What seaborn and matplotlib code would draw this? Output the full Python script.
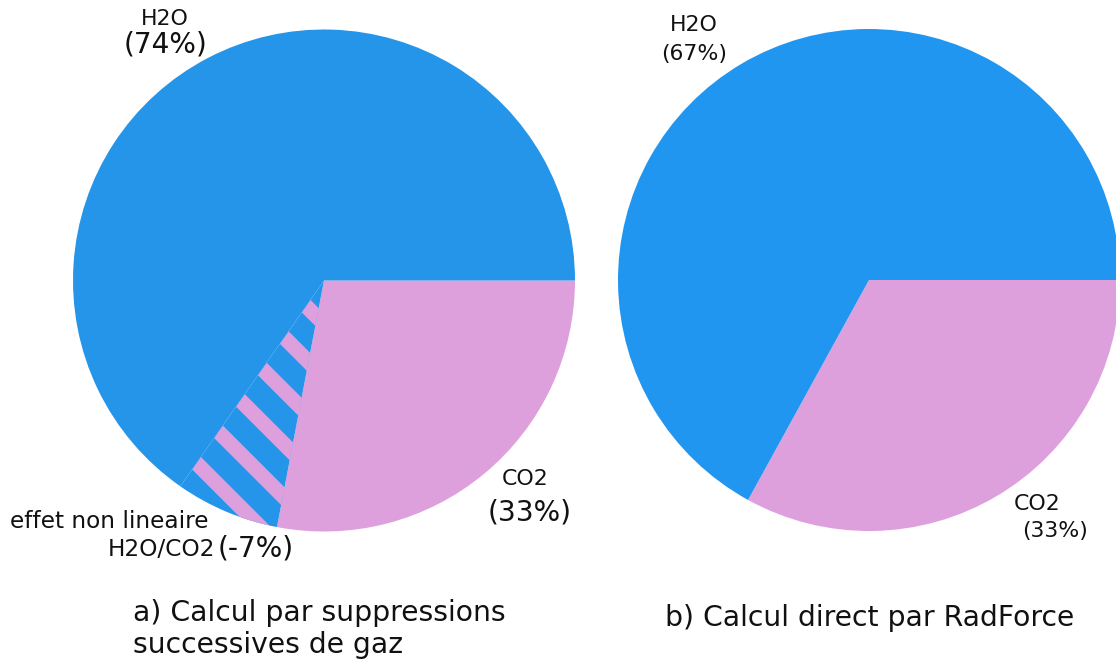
import matplotlib
matplotlib.use("Agg")
import matplotlib.pyplot as plt
import seaborn as sns

sns.set_style("white")
plt.rcParams['font.family'] = ['DejaVu Sans']

# ---------------- data ----------------
left_names = ["CO2", "effet non lineaire\nH2O/CO2", "H2O"]
left_shares = [28.0, 6.7, 65.3]          # wedge sizes as drawn
left_pct = [33, -7, 74]                  # percentages as labelled
right_names = ["CO2", "H2O"]
right_shares = [33, 67]
right_pct = [33, 67]
title_a = "a) Calcul par suppressions\nsuccessives de gaz"
title_b = "b) Calcul direct par RadForce"

# ---------------- style ----------------
DPI = 160
W, H = 1116, 661
PINK = "#DDA0DD"
BLUE_L = "#2595E9"
BLUE_R = "#2196F0"


def pt(px):
    return px * 72.0 / DPI


plt.rcParams['hatch.linewidth'] = pt(15)

fig = plt.figure(figsize=(W / DPI, H / DPI), dpi=DPI)


def pie_axes(cx, cy, r):
    return fig.add_axes([(cx - r) / W, (H - cy - r) / H, 2 * r / W, 2 * r / H])


def ftext(x, y, s, size, **kw):
    fig.text(x / W, 1 - y / H, s, fontsize=pt(size), color="#111111", **kw)


# left pie
axl = pie_axes(324, 280.5, 251)
wl, _ = axl.pie(left_shares, colors=[PINK, BLUE_L, BLUE_L], startangle=0,
                counterclock=False, radius=1,
                wedgeprops=dict(linewidth=0))
wl[1].set_edgecolor(PINK)
wl[1].set_linewidth(0)
wl[1].set_hatch("\\")
axl.set_xlim(-1, 1)
axl.set_ylim(-1, 1)
axl.set_aspect("equal")
axl.axis("off")

# right pie
axr = pie_axes(869, 280, 251)
axr.pie(right_shares, colors=[PINK, BLUE_R], startangle=0, counterclock=False,
        radius=1, wedgeprops=dict(linewidth=0))
axr.set_xlim(-1, 1)
axr.set_ylim(-1, 1)
axr.set_aspect("equal")
axr.axis("off")

SMALL, BIG = 22, 28

# left labels
ftext(165, 19, left_names[2], SMALL, ha="center", va="center")
ftext(165, 45, f"({left_pct[2]}%)", BIG, ha="center", va="center")
ftext(525, 479, left_names[0], SMALL, ha="center", va="center")
ftext(530, 512, f"({left_pct[0]}%)", BIG, ha="center", va="center")
nl1, nl2 = left_names[1].split("\n")
ftext(10, 521, nl1, 23.3, ha="left", va="center")
ftext(215, 549, nl2, 23.3, ha="right", va="center")
ftext(218, 549, f"({left_pct[1]}%)", BIG, ha="left", va="center")

# right labels
ftext(694, 25, right_names[1], SMALL, ha="center", va="center")
ftext(694, 54, f"({right_pct[1]}%)", SMALL, ha="center", va="center")
ftext(1037, 504, right_names[0], SMALL, ha="center", va="center")
ftext(1055, 531, f"({right_pct[0]}%)", SMALL, ha="center", va="center")

# captions
ftext(133, 629, title_a, 28.3, ha="left", va="center", linespacing=1.2)
ftext(665, 618, title_b, 28.3, ha="left", va="center")

fig.savefig("out.png", dpi=DPI, facecolor="white")
